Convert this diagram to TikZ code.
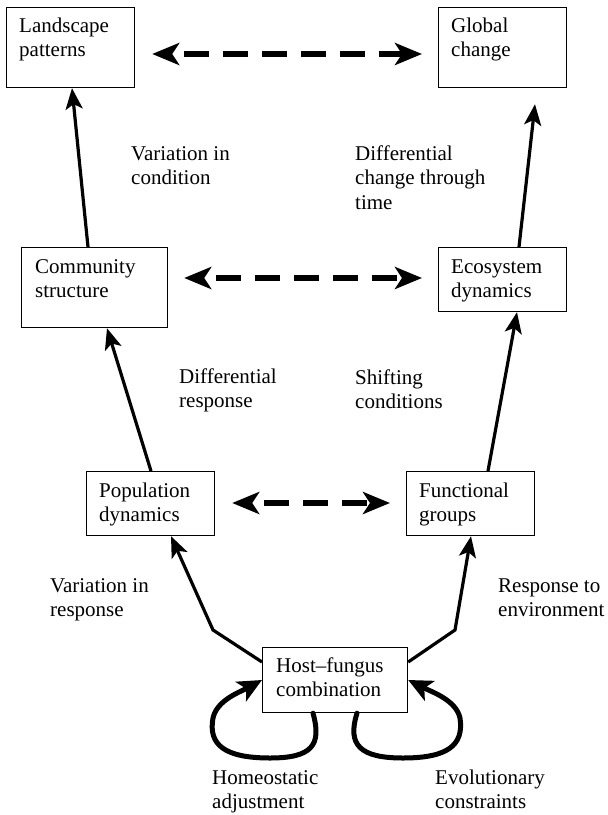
\documentclass[tikz,border=0pt]{standalone}
\usepackage{fontspec}
\setmainfont{Liberation Serif}
\usetikzlibrary{arrows.meta,calc}
\newcommand\mystrut{\rule{0pt}{15pt}}
\begin{document}
\begin{tikzpicture}[x=1pt,y=-1pt,
  box/.style={draw, line width=1.2pt, rectangle, inner sep=0pt, anchor=north west},
  lbl/.style={anchor=north west, inner sep=0pt, align=left, font=\fontsize{21}{24.5}\selectfont},
  solidarr/.style={line width=3.2pt, -{Stealth[length=21pt,width=17pt,inset=5pt]}},
  dasharr/.style={line width=6pt, dash pattern=on 25pt off 14pt, dash phase=25pt,
     {Stealth[length=27pt,width=22pt,inset=7pt]}-{Stealth[length=27pt,width=22pt,inset=7pt]}},
  looparr/.style={line width=5pt, line cap=round, -{Stealth[length=24pt,width=22pt,inset=6pt]}}
]
\fill[white] (0,0) rectangle (608,815);
\useasboundingbox (0,0) rectangle (608,815);

% boxes
\node[box, minimum width=128pt, minimum height=80pt] (lp) at (6,7) {};
\node[box, minimum width=128pt, minimum height=80pt] (gc) at (438,7) {};
\node[box, minimum width=146pt, minimum height=80pt] (cs) at (21,247) {};
\node[box, minimum width=128pt, minimum height=64pt] (ed) at (438,247) {};
\node[box, minimum width=128pt, minimum height=64pt] (pd) at (86,471) {};
\node[box, minimum width=128pt, minimum height=64pt] (fg) at (406,471) {};
\node[box, minimum width=145pt, minimum height=65pt] (hf) at (262,647) {};

% box texts
\node[lbl] (lpt) at ($(lp.north west)+(13,10)$) {\mystrut Landscape\\patterns};
\node[lbl] (gct) at ($(gc.north west)+(13,10)$) {\mystrut Global\\change};
\node[lbl] (cst) at ($(cs.north west)+(14,11)$) {\mystrut Community\\structure};
\node[lbl] (edt) at ($(ed.north west)+(13,11)$) {\mystrut Ecosystem\\dynamics};
\node[lbl] (pdt) at ($(pd.north west)+(13,11)$) {\mystrut Population\\dynamics};
\node[lbl] (fgt) at ($(fg.north west)+(13,11)$) {\mystrut Functional\\groups};
\node[lbl] (hft) at ($(hf.north west)+(14,10)$) {\mystrut Host--fungus\\combination};

% free labels
\node[lbl] (l1) at (131,145) {\mystrut Variation in\\condition};
\node[lbl] (l2) at (355,145) {\mystrut Differential\\change through\\time};
\node[lbl] (l3) at (179,368) {\mystrut Differential\\response};
\node[lbl] (l4) at (355,369) {\mystrut Shifting\\conditions};
\node[lbl] (l5) at (50,577) {\mystrut Variation in\\response};
\node[lbl] (l6) at (498,577) {\mystrut Response to\\environment};
\node[lbl] (l7) at (212,769) {\mystrut Homeostatic\\adjustment};
\node[lbl] (l8) at (435,769) {\mystrut Evolutionary\\constraints};

% dashed two-way arrows
\draw[dasharr] ($(lp.north east)+(17,47)$) -- ($(gc.north west)+(-16,47)$);
\draw[dasharr] ($(cs.north east)+(16,31)$) -- ($(ed.north west)+(-16,31)$);
\draw[dasharr] ($(pd.north east)+(17,32)$) -- ($(fg.north west)+(-16,32)$);

% solid arrows
\draw[solidarr] ($(cs.north west)+(67,0)$) -- ($(lp.south west)+(66,0)$);
\draw[solidarr] ($(ed.north west)+(81,0)$) -- ($(gc.south west)+(97,16)$);
\draw[solidarr] ($(pd.north west)+(65,0)$) -- ($(cs.south west)+(86,0)$);
\draw[solidarr] ($(fg.north west)+(82,0)$) -- ($(ed.south west)+(79,0)$);

\coordinate (bendL) at (213,630);
\coordinate (bendR) at (455,630);
\draw[solidarr] ($(hf.north west)+(0,15)$) -- (bendL) -- ($(pd.south west)+(85,0)$);
\draw[solidarr] ($(hf.north east)+(0,15)$) -- (bendR) -- ($(fg.south west)+(65,0)$);

% loops
\draw[looparr] ($(hf.south west)+(51,0)$) .. controls (322,745) and (312,758) .. (270,758)
   .. controls (225,758) and (208,745) .. (213,718)
   .. controls (217,700) and (240,692) .. ($(hf.north west)+(0,33)$);
\draw[looparr] ($(hf.south west)+(95,0)$) .. controls (347,745) and (360,758) .. (403,758)
   .. controls (448,758) and (464,745) .. (460,718)
   .. controls (456,700) and (432,692) .. ($(hf.north east)+(0,33)$);
\end{tikzpicture}
\end{document}
